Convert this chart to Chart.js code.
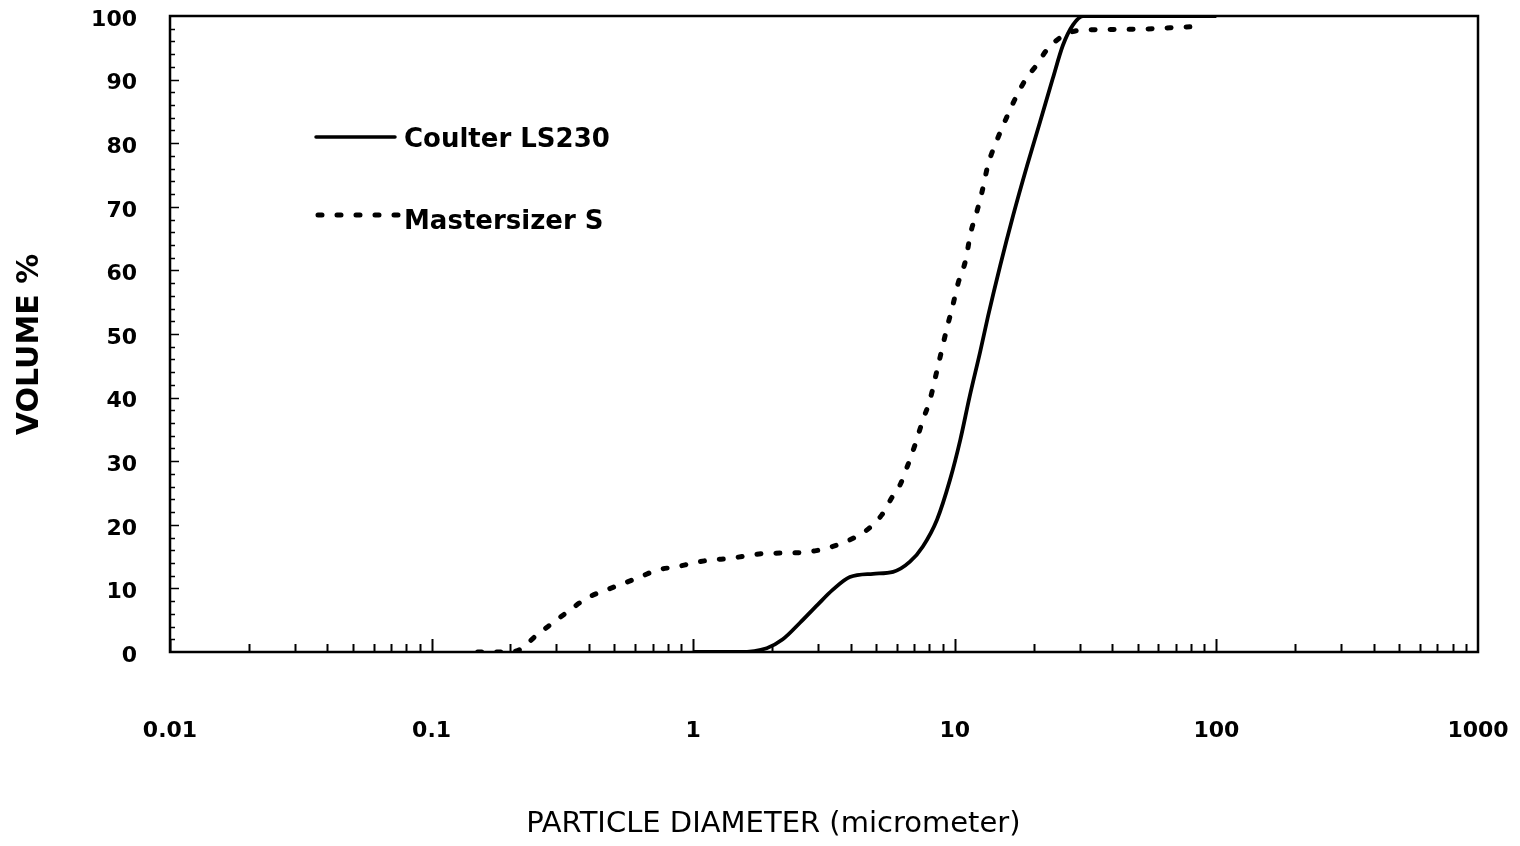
<!DOCTYPE html>
<html>
<head>
<meta charset="utf-8">
<script src="https://cdn.jsdelivr.net/npm/chart.js@4.4.1/dist/chart.umd.min.js"></script>
<style>
  html, body { margin: 0; padding: 0; background: #fff; }
  #wrap { width: 1520px; height: 846px; position: relative; }
</style>
</head>
<body>
<div id="wrap"><canvas id="psd-chart"></canvas></div>
<script>
// x axis decades (micrometer) and their labels
const xTicks = [0.01, 0.1, 1, 10, 100, 1000];
const xTickLabels = ['0.01', '0.1', '1', '10', '100', '1000'];

// Coulter LS230 (solid)
const coulterX = [1.0, 1.5, 1.91, 2.2, 2.56, 3.0, 3.42, 3.97, 4.87, 5.81, 6.74, 7.55, 8.55, 9.59, 10.5, 11.4, 12.5, 13.4, 14.9, 16.7, 18.9, 21.2, 23.7, 25.9, 28.3, 30.9, 50, 100];
const coulterY = [0, 0, 0.6, 2.0, 4.6, 7.5, 9.8, 11.8, 12.3, 12.6, 14.2, 16.6, 20.8, 27.1, 33.4, 40.2, 47.2, 52.8, 60.7, 68.6, 76.5, 83.4, 90.2, 95.4, 98.6, 100, 100, 100];

// Mastersizer S (dashed)
const masterX = [0.15, 0.19, 0.218, 0.248, 0.291, 0.338, 0.393, 0.469, 0.627, 0.728, 0.867, 1.0, 1.18, 1.38, 1.58, 1.91, 2.49, 2.92, 3.42, 3.91, 4.62, 5.27, 5.75, 6.18, 6.63, 7.05, 7.5, 8.04, 8.63, 9.34, 9.84, 10.3, 11.0, 11.5, 12.1, 12.7, 13.4, 14.6, 15.8, 17.3, 18.9, 20.3, 22.5, 24.2, 27.1, 30.9, 46.8, 79.2];
const masterY = [0, 0, 0.4, 2.4, 4.6, 6.6, 8.5, 9.8, 11.8, 12.9, 13.4, 14.0, 14.5, 14.7, 15.1, 15.5, 15.6, 15.9, 16.6, 17.5, 19.2, 21.6, 24.3, 26.3, 29.5, 32.6, 36.1, 39.7, 45, 51, 54.6, 58, 61.6, 65.9, 69, 72.3, 76.6, 80.8, 84.1, 87.6, 90.4, 92, 94.7, 96, 97.3, 97.8, 97.9, 98.3];

const seriesNames = ['Coulter LS230', 'Mastersizer S'];

const toPoints = (xs, ys) => xs.map((x, i) => ({ x: x, y: ys[i] }));
const DASH = [4, 15];

// invisible tick marks, only used as a gap between axis and labels
const gapGrid = len => ({ display: true, drawOnChartArea: false, drawTicks: true, tickLength: len, color: 'rgba(0,0,0,0)' });

// frame, inner minor ticks and the hand-placed legend of the original
const framePlugin = {
  id: 'frame',
  afterDatasetsDraw(chart) {
    const { ctx, chartArea: a, scales: { x, y } } = chart;
    ctx.save();
    ctx.strokeStyle = '#000';

    // x ticks pointing up into the plot
    ctx.lineWidth = 2;
    xTicks.slice(0, -1).forEach(d => {
      for (let k = 1; k <= 9; k++) {
        const px = Math.round(x.getPixelForValue(k * d)) + 0.5;
        const len = k === 1 ? 13 : 8;
        ctx.beginPath(); ctx.moveTo(px, a.bottom); ctx.lineTo(px, a.bottom - len); ctx.stroke();
      }
    });

    // y ticks pointing right
    ctx.lineWidth = 1.5;
    for (let v = 2; v < 100; v += 2) {
      const py = Math.round(y.getPixelForValue(v)) + 0.5;
      const len = v % 10 === 0 ? 9 : 5;
      ctx.beginPath(); ctx.moveTo(a.left, py); ctx.lineTo(a.left + len, py); ctx.stroke();
    }

    // box
    ctx.lineWidth = 2.5;
    ctx.strokeRect(a.left, a.top, a.right - a.left, a.bottom - a.top);

    // legend
    const lx = a.left + 146, lx2 = a.left + 225;
    ctx.lineWidth = 3.5;
    ctx.lineCap = 'round';
    ctx.beginPath(); ctx.moveTo(lx, 137); ctx.lineTo(lx2, 137); ctx.stroke();
    ctx.lineWidth = 5;
    ctx.setLineDash(DASH);
    ctx.beginPath(); ctx.moveTo(lx + 2, 215); ctx.lineTo(lx2 + 4, 215); ctx.stroke();
    ctx.setLineDash([]);
    ctx.fillStyle = '#000';
    ctx.font = 'bold 26px "DejaVu Sans"';
    ctx.textBaseline = 'middle';
    ctx.fillText(seriesNames[0], lx2 + 9, 140);
    ctx.fillText(seriesNames[1], lx2 + 9, 222);
    ctx.restore();
  }
};

const ctx = document.getElementById('psd-chart').getContext('2d');
new Chart(ctx, {
  type: 'scatter',
  data: {
    datasets: [{
      label: seriesNames[0],
      data: toPoints(coulterX, coulterY),
      showLine: true,
      borderColor: '#000',
      borderWidth: 3.8,
      pointRadius: 0,
      cubicInterpolationMode: 'monotone'
    }, {
      label: seriesNames[1],
      data: toPoints(masterX, masterY),
      showLine: true,
      borderColor: '#000',
      borderWidth: 5,
      borderDash: DASH,
      borderCapStyle: 'round',
      pointRadius: 0,
      cubicInterpolationMode: 'monotone'
    }]
  },
  options: {
    responsive: true,
    maintainAspectRatio: false,
    animation: false,
    layout: { padding: { left: 0, top: 16, right: 42, bottom: 0 } },
    plugins: { legend: { display: false }, tooltip: { enabled: false } },
    scales: {
      x: {
        type: 'logarithmic',
        min: 0.01,
        max: 1000,
        afterBuildTicks: s => { s.ticks = xTicks.map(v => ({ value: v })); },
        afterFit: s => { s.height = 194; },
        grid: gapGrid(66),
        border: { display: false },
        ticks: {
          autoSkip: false,
          maxRotation: 0,
          padding: 0,
          color: '#000',
          font: { family: 'DejaVu Sans', weight: 'bold', size: 22 },
          callback: (v, i) => xTickLabels[i]
        },
        title: {
          display: true,
          text: 'PARTICLE DIAMETER (micrometer)' + '\u00a0'.repeat(11),
          color: '#000',
          font: { family: 'DejaVu Sans', size: 29 },
          padding: { top: 0, bottom: 4 }
        }
      },
      y: {
        min: 0,
        max: 100,
        afterFit: s => { s.width = 170; },
        grid: gapGrid(33),
        border: { display: false },
        ticks: {
          stepSize: 10,
          padding: 0,
          labelOffset: 4,
          color: '#000',
          font: { family: 'DejaVu Sans', weight: 'bold', size: 22 }
        },
        title: {
          display: true,
          text: 'VOLUME %' + '\u00a0\u00a0',
          color: '#000',
          font: { family: 'DejaVu Sans', weight: 'bold', size: 30 },
          padding: { top: 12, bottom: 0 }
        }
      }
    }
  },
  plugins: [framePlugin]
});
</script>
</body>
</html>
